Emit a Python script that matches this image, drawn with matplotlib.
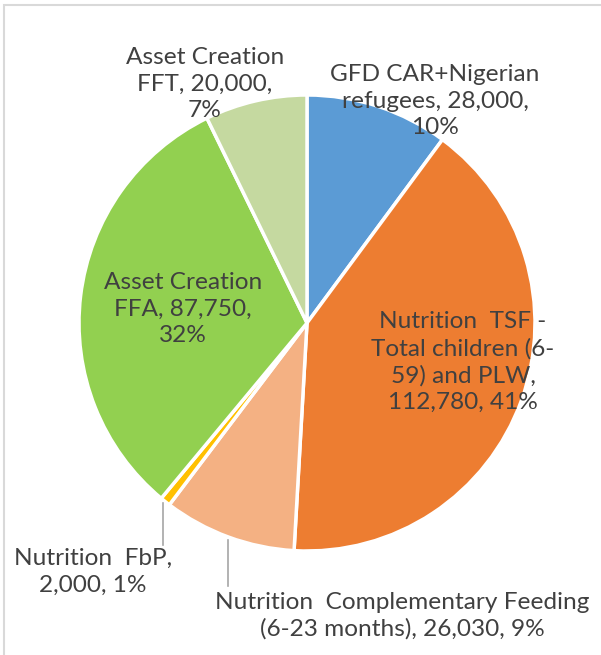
import matplotlib
matplotlib.use("Agg")
import matplotlib.pyplot as plt
from matplotlib.patches import Rectangle

labels = ["GFD CAR+Nigerian\nrefugees, 28,000,\n10%",
          "Nutrition  TSF -\nTotal children (6-\n59) and PLW,\n112,780, 41%",
          "Nutrition  Complementary Feeding\n(6-23 months), 26,030, 9%",
          "Nutrition  FbP,\n2,000, 1%",
          "Asset Creation\nFFA, 87,750,\n32%",
          "Asset Creation\nFFT, 20,000,\n7%"]
values = [28000, 112780, 26030, 2000, 87750, 20000]
colors = ["#5B9BD5", "#ED7D31", "#F4B183", "#FFC000", "#92D050", "#C5D9A0"]

W, H = 601, 655
fig = plt.figure(figsize=(W/100, H/100), dpi=100)
ax = fig.add_axes([0, 0, 1, 1])

cx, cy, r = 307, H - 323, 228
ax.pie(values, colors=colors, startangle=90, counterclock=False,
       center=(cx, cy), radius=r,
       wedgeprops=dict(edgecolor="white", linewidth=2.5))
ax.set_xlim(0, W)
ax.set_ylim(0, H)
ax.set_aspect("equal")
ax.axis("off")

# border
ax.add_patch(Rectangle((4, -10), W + 10, H - 5 + 10, fill=False,
                       edgecolor="#D9D9D9", linewidth=1.5, clip_on=False))

# label positions in pixel coordinates (x, y from top)
pos = [(435, 101), (463, 362), (402, 616), (93, 572), (183, 309), (205, 84)]
txt = dict(fontsize=17.6, color="#404040", ha="center", va="center",
           family=["Lato", "DejaVu Sans"], linespacing=1.32)
for lab, (x, y) in zip(labels, pos):
    ax.text(x, H - y, lab, **txt)

# leader lines
ax.plot([163, 163], [H - 503, H - 545], color="#A6A6A6", lw=1.2)
ax.plot([228, 228], [H - 540, H - 586], color="#A6A6A6", lw=1.2)

fig.savefig("out.png", dpi=100)
